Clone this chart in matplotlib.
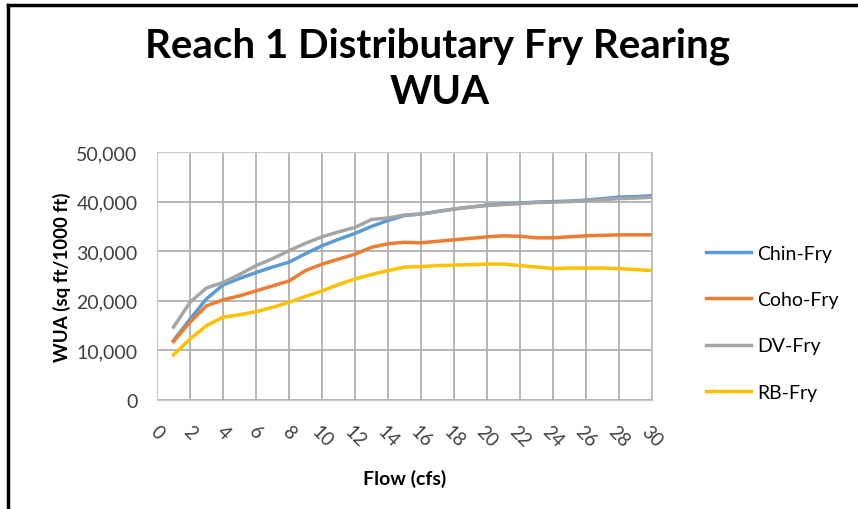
import matplotlib
matplotlib.use("Agg")
import matplotlib.pyplot as plt
from matplotlib.lines import Line2D

plt.rcParams['font.family'] = ['Lato', 'DejaVu Sans']

flow = list(range(1, 31))
chin_fry = [12.0, 16.3, 20.4, 23.2, 24.5, 25.7, 26.8, 27.8, 29.5, 31.1,
            32.4, 33.6, 35.0, 36.2, 37.2, 37.5, 38.0, 38.5, 38.9, 39.3,
            39.5, 39.7, 39.9, 40.0, 40.1, 40.3, 40.6, 40.9, 41.0, 41.2]
coho_fry = [11.8, 15.7, 19.0, 20.2, 21.0, 22.0, 23.0, 24.0, 26.1, 27.4,
            28.4, 29.4, 30.8, 31.5, 31.8, 31.7, 32.0, 32.3, 32.6, 32.9,
            33.1, 33.0, 32.7, 32.7, 32.9, 33.1, 33.2, 33.3, 33.3, 33.3]
dv_fry = [14.7, 19.7, 22.6, 23.7, 25.3, 27.1, 28.5, 30.1, 31.6, 32.9,
          33.9, 34.8, 36.4, 36.7, 37.3, 37.5, 38.0, 38.5, 38.9, 39.2,
          39.4, 39.6, 39.8, 39.9, 40.0, 40.2, 40.4, 40.6, 40.7, 40.9]
rb_fry = [9.1, 12.3, 15.0, 16.7, 17.2, 17.8, 18.7, 19.7, 20.9, 22.0,
          23.3, 24.4, 25.3, 26.1, 26.8, 26.9, 27.1, 27.2, 27.3, 27.4,
          27.4, 27.1, 26.8, 26.5, 26.6, 26.6, 26.6, 26.5, 26.3, 26.1]

series = [("Chin-Fry", chin_fry, "#5B9BD5"),
          ("Coho-Fry", coho_fry, "#ED7D31"),
          ("DV-Fry", dv_fry, "#A5A5A5"),
          ("RB-Fry", rb_fry, "#FFC000")]

fig = plt.figure(figsize=(8.58, 5.10), dpi=100)
ax = fig.add_axes([0.183, 0.2137, 0.577, 0.4863])

for name, vals, color in series:
    ax.plot(flow, [v * 1000 for v in vals], color=color, lw=2.5, label=name)

ax.set_xlim(0, 30)
ax.set_ylim(0, 50000)
ax.set_xticks(range(0, 31, 2))
ax.set_yticks(range(0, 50001, 10000))
ax.set_yticklabels([f"{v:,}" for v in range(0, 50001, 10000)])
ax.tick_params(axis='x', labelrotation=-45, length=0, labelsize=13.5,
               labelcolor="#404040", pad=16)
ax.tick_params(axis='y', length=0, labelsize=14, labelcolor="#404040", pad=14)
for lbl in ax.get_xticklabels():
    lbl.set_ha('center')
ax.grid(True, color="#b0b0b0", lw=1.3)
for s in ax.spines.values():
    s.set_color("#c8c8c8")

ax.set_xlabel("Flow (cfs)", fontsize=14, fontweight="bold", labelpad=14)
ax.set_ylabel("WUA (sq ft/1000 ft)", fontsize=13.5, fontweight="bold", labelpad=4)

fig.text(0.51, 0.91, "Reach 1 Distributary Fry Rearing", ha="center",
         va="center", fontsize=29, fontweight="bold")
fig.text(0.513, 0.818, "WUA", ha="center", va="center", fontsize=29,
         fontweight="bold")

fig.legend(loc="center left", bbox_to_anchor=(0.803, 0.365), frameon=False,
           fontsize=14, handlelength=2.3, labelspacing=1.5, handletextpad=0.3)

# outer border (left and top edges only visible)
fig.add_artist(Line2D([0.0095, 0.0095], [0, 0.988], color="black", lw=2.5,
                      transform=fig.transFigure))
fig.add_artist(Line2D([0.0095, 1], [0.988, 0.988], color="black", lw=2.5,
                      transform=fig.transFigure))

fig.savefig("out.png", dpi=100)
